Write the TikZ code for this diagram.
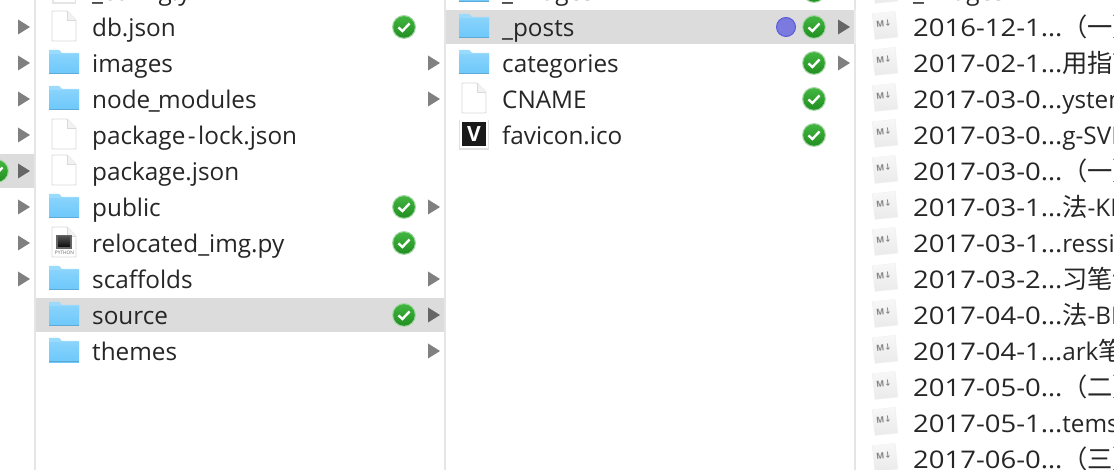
\documentclass[tikz,border=0pt]{standalone}
\usepackage{fontspec}
\setmainfont{Open Sans}
\newfontfamily\cjkf[Scale=1.04]{Noto Sans CJK SC}
\newfontfamily\datef[FakeStretch=1.13]{Open Sans}
\newfontfamily\arrowf{DejaVu Sans}
\definecolor{sel}{HTML}{DCDCDC}
\definecolor{sepc}{HTML}{E5E5E5}
\definecolor{fold}{HTML}{6CC8FB}
\definecolor{foldtop}{HTML}{9ADAFC}
\definecolor{foldlow}{HTML}{5FA9D6}
\definecolor{txt}{HTML}{262626}
\definecolor{chka}{HTML}{42B53F}
\definecolor{chkb}{HTML}{218F22}
\definecolor{purp}{HTML}{7B7BDF}
\definecolor{purpd}{HTML}{5A5AD8}
\tikzset{
 flabel/.style={anchor=base west,inner sep=0pt,text=txt,font=\fontsize{24.3}{24}\selectfont}
}
\newcommand{\mkfolder}[2]{\begin{scope}[shift={(#1,#2)}]
 \fill[foldtop] (0,-13) -- (10,-13) -- (13,-10) -- (30,-10) -- (30,0) -- (0,0) -- cycle;
 \fill[top color=foldtop!60!fold,bottom color=fold] (0,-8.5) -- (30,-8.5) -- (30,11) -- (0,11) -- cycle;
 \fill[foldlow] (0,10) rectangle (30,11.2);
\end{scope}}
\newcommand{\mkfile}[2]{\begin{scope}[shift={(#1,#2)}]
 \draw[black!15,fill=white,line width=.8pt,rounded corners=.8pt] (0,-16) -- (15,-16) -- (24,-7) -- (24,14) -- (0,14) -- cycle;
 \draw[black!15,fill=black!5,line width=.6pt] (15,-16) -- (15,-7) -- (24,-7);
\end{scope}}
\newcommand{\mkcheck}[2]{\begin{scope}[shift={(#1,#2)}]
 \fill[green!55!black!35] (0,0) circle (12);
 \shade[top color=chka,bottom color=chkb] (0,0) circle (10.8);
 \draw[white,line width=2.4pt] (-5.6,.4) -- (-1.6,4) -- (5.6,-3.6);
\end{scope}}
\newcommand{\mktri}[3][black!50]{\fill[#1] (#2,#3-7.5) -- (#2+12,#3) -- (#2,#3+7.5) -- cycle;}
\newcommand{\mkmd}[2]{\begin{scope}[shift={(#1,#2-2)},rotate=6]
 \fill[black!6] (-11.8,-12.8) rectangle (11.8,13.6);
 \shade[top color=black!3,bottom color=black!8] (-11,-12.5) rectangle (11,12.8);
 \node[inner sep=0pt,text=black!48,font=\fontsize{8.5}{8.5}\selectfont\bfseries,transform shape] at (-1,-1.5) {M{\arrowf ↓}};
\end{scope}}
\begin{document}
\begin{tikzpicture}[x=1pt,y=-1pt]
\useasboundingbox (0,0) rectangle (1114,470);
\clip (0,0) rectangle (1114,470);
\fill[white] (0,0) rectangle (1114,470);
% highlights
\fill[sel] (0,154) rectangle (34,188);
\fill[sel] (36,298) rectangle (444,332);
\fill[sel] (446,10) rectangle (854,44);
% separators
\fill[sepc] (34,0) rectangle (36,470);
\fill[sepc] (444,0) rectangle (446,470);
\fill[sepc] (854,0) rectangle (856,470);
\fill[black!7] (854,10) rectangle (856,44);
% left strip
\mkcheck{-3}{171}
\foreach \y in {27,63,99,135,207,243,279} {\mktri{18}{\y}}
\mktri[black!60]{18}{171}
% column 1
\fill[black!10] (52,-6) rectangle (76,4);
\fill[white] (53.5,-6) rectangle (74.5,2.5);
\node[flabel] (c1top) at (92,0.8) {\_config.yml};
\mkfile{52}{27}
\mkfolder{49}{63}
\mkfolder{49}{99}
\mkfile{52}{135}
\mkfile{52}{171}
\mkfolder{49}{207}
\mkfile{52}{243}
\fill[black!60] (56,235) rectangle (72,249);
\shade[top color=black!70,bottom color=black!95] (58,237) rectangle (70,247);
\node[inner sep=0pt,text=black!60,font=\fontsize{4.8}{5}\selectfont] (pylabel) at (64.5,252.3) {PYTHON};
\mkfolder{49}{279}
\mkfolder{49}{315}
\mkfolder{49}{351}
\node[flabel] (a1) at (92,36.8) {db.json};
\node[flabel] (a2) at (92,72.8) {images};
\node[flabel] (a3) at (92,108.8) {node\kern-1.5pt\_\kern-1.5pt modules};
\node[flabel] (a4) at (92,144.8) {package\kern2.5pt-\kern2.5pt lock.json};
\node[flabel] (a5) at (92,180.8) {package.json};
\node[flabel] (a6) at (92,216.8) {public};
\node[flabel] (a7) at (92,252.8) {relocated\_img.py};
\node[flabel] (a8) at (92,288.8) {scaffolds};
\node[flabel] (a9) at (92,324.8) {source};
\node[flabel] (a10) at (92,360.8) {themes};
\foreach \y in {27,207,243,315} {\mkcheck{404}{\y}}
\foreach \y in {63,99,207,279,351} {\mktri{428}{\y}}
\mktri[black!60]{428}{315}
% column 2
\mkfolder{459}{-9}
\node[flabel] (c2top) at (502,0.8) {\_images};
\mkcheck{814}{-9}
\mkfolder{459}{27}
\mkfolder{459}{63}
\mkfile{462}{99}
\fill[black!12] (459,120) rectangle (489,150);
\fill[white] (460,120.5) rectangle (488,148.5);
\fill[black!90] (462,122.5) rectangle (486,146);
\node[inner sep=0pt,text=white,font=\fontsize{21}{21}\selectfont\bfseries] (vmark) at (474,134.5) {V};
\node[flabel] (b1) at (502,36.8) {\_posts};
\node[flabel] (b2) at (502,72.8) {categories};
\node[flabel] (b3) at (502,108.8) {CNAME};
\node[flabel] (b4) at (502,144.8) {favicon.ico};
\draw[fill=purp,draw=purpd,line width=1pt] (786,27) circle (9.5);
\foreach \y in {27,63,99,135} {\mkcheck{814}{\y}}
\mktri[black!60]{838}{27}
\mktri{838}{63}
% column 3
\mkmd{885}{-9}
\node[flabel] (c3top) at (913,0.8) {\_images};
\foreach \y in {27,63,99,135,171,207,243,279,315,351,387,423,459} {\mkmd{885}{\y}}
\node[flabel] (d1) at (913,36.8) {{\datef 2016-12-1…}\cjkf（一）};
\node[flabel] (d2) at (913,72.8) {{\datef 2017-02-1…}\cjkf 用指南};
\node[flabel] (d3) at (913,108.8) {{\datef 2017-03-0…}ystem};
\node[flabel] (d4) at (913,144.8) {{\datef 2017-03-0…}g-SVM};
\node[flabel] (d5) at (913,180.8) {{\datef 2017-03-0…}\cjkf（一）};
\node[flabel] (d6) at (913,216.8) {{\datef 2017-03-1…}{\cjkf 法}-KNN};
\node[flabel] (d7) at (913,252.8) {{\datef 2017-03-1…}ression};
\node[flabel] (d8) at (913,288.8) {{\datef 2017-03-2…}\cjkf 习笔记};
\node[flabel] (d9) at (913,324.8) {{\datef 2017-04-0…}{\cjkf 法}-BP};
\node[flabel] (d10) at (913,360.8) {{\datef 2017-04-1…}ark{\cjkf 笔记}};
\node[flabel] (d11) at (913,396.8) {{\datef 2017-05-0…}\cjkf（二）};
\node[flabel] (d12) at (913,432.8) {{\datef 2017-05-1…}tems};
\node[flabel] (d13) at (913,468.8) {{\datef 2017-06-0…}\cjkf（三）};
\end{tikzpicture}
\end{document}
